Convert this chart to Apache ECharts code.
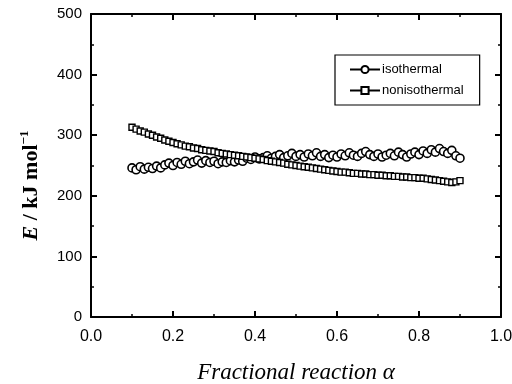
<!DOCTYPE html>
<html>
<head>
<meta charset="utf-8">
<script src="https://cdn.jsdelivr.net/npm/echarts@6/dist/echarts.min.js"></script>
<style>html,body{margin:0;padding:0;background:#fff}#c{width:512px;height:384px}</style>
</head>
<body>
<div id="c"></div>
<script>
var alpha = [0.10,0.11,0.12,0.13,0.14,0.15,0.16,0.17,0.18,0.19,
0.20,0.21,0.22,0.23,0.24,0.25,0.26,0.27,0.28,0.29,
0.30,0.31,0.32,0.33,0.34,0.35,0.36,0.37,0.38,0.39,
0.40,0.41,0.42,0.43,0.44,0.45,0.46,0.47,0.48,0.49,
0.50,0.51,0.52,0.53,0.54,0.55,0.56,0.57,0.58,0.59,
0.60,0.61,0.62,0.63,0.64,0.65,0.66,0.67,0.68,0.69,
0.70,0.71,0.72,0.73,0.74,0.75,0.76,0.77,0.78,0.79,
0.80,0.81,0.82,0.83,0.84,0.85,0.86,0.87,0.88,0.89,0.90];
var isothermal = [246,243,248,244,247,245,249,246,251,254,
250,255,252,257,253,256,259,254,258,255,
257,253,256,255,258,256,259,257,262,260,
264,261,263,266,262,265,268,263,266,270,
265,268,264,269,266,271,265,268,263,267,
264,269,266,271,267,265,270,273,268,265,
269,264,267,270,266,272,268,264,269,272,
268,274,270,276,272,278,273,270,275,266,262];
var nonisothermal = [313,310,307,305,302,300,297,295,292,290,
288,286,284,282,281,279,278,276,275,274,
273,271,270,269,268,267,266,265,264,263,
262,261,260,258,257,256,255,254,252,251,
250,249,248,247,246,245,244,243,242,241,
240,239,239,238,237,237,236,236,235,235,
234,234,233,233,232,232,231,231,230,230,
229,229,228,227,226,225,224,223,222,223,225];
var seriesNames = ['isothermal','nonisothermal'];
var xTicks = {min:0, max:1, interval:0.2};
var yTicks = {min:0, max:500, interval:100};

function pairs(xs, ys){ return xs.map(function(x,i){return [x, ys[i]];}); }

var axisCommon = {
  axisLine:{show:true, onZero:false, lineStyle:{color:'#000', width:2}},
  axisTick:{show:true, inside:true, length:6, lineStyle:{color:'#000', width:2}},
  minorTick:{show:true, splitNumber:2, length:3, lineStyle:{color:'#000', width:1.5}},
  splitLine:{show:false}
};
function ax(extra){ return Object.assign({}, JSON.parse(JSON.stringify(axisCommon)), extra); }

var chart = echarts.init(document.getElementById('c'));
chart.setOption({
  animation:false,
  backgroundColor:'#fff',
  grid:{left:91, right:11, top:14, bottom:67, containLabel:false, outerBoundsMode:'none'},
  xAxis:[
    ax({type:'value', position:'bottom', min:xTicks.min, max:xTicks.max, interval:xTicks.interval,
      axisLabel:{color:'#000', fontFamily:'Liberation Sans', fontSize:16, margin:12,
        formatter:function(v){return v.toFixed(1);}},
      name:'Fractional reaction α', nameLocation:'middle', nameGap:44,
      nameTextStyle:{color:'#000', fontFamily:'Liberation Serif', fontStyle:'italic', fontSize:23}}),
    ax({type:'value', position:'top', min:xTicks.min, max:xTicks.max, interval:xTicks.interval,
      axisLabel:{show:false}})
  ],
  yAxis:[
    ax({type:'value', position:'left', min:yTicks.min, max:yTicks.max, interval:yTicks.interval,
      axisLabel:{color:'#000', fontFamily:'Liberation Sans', fontSize:15, margin:9},
      name:'{i|E} / kJ mol{s|−1}', nameLocation:'middle', nameGap:47,
      nameTextStyle:{color:'#000', fontFamily:'Liberation Serif', fontWeight:'bold', fontSize:22,
        padding:[0,40,0,0], lineHeight:26,
        rich:{
          i:{fontFamily:'Liberation Serif', fontStyle:'italic', fontWeight:'bold', fontSize:22, color:'#000', lineHeight:26},
          s:{fontFamily:'Liberation Serif', fontWeight:'bold', fontSize:13, color:'#000', verticalAlign:'top', lineHeight:26}
        }}}),
    ax({type:'value', position:'right', min:yTicks.min, max:yTicks.max, interval:yTicks.interval,
      axisLabel:{show:false}})
  ],
  legend:{
    left:335, top:55, orient:'vertical', itemGap:8, itemWidth:30, itemHeight:9,
    padding:[8,16,8,14], borderColor:'#000', borderWidth:1.2,
    textStyle:{color:'#000', fontFamily:'Liberation Sans', fontSize:13, padding:[0,0,0,-3]},
    data:seriesNames
  },
  series:[
    {name:seriesNames[0], type:'line', data:pairs(alpha, isothermal), symbol:'circle', symbolSize:8,
      itemStyle:{color:'#fff', borderColor:'#000', borderWidth:1.6},
      lineStyle:{color:'#000', width:1.4}},
    {name:seriesNames[1], type:'line', data:pairs(alpha, nonisothermal), symbol:'rect', symbolSize:6,
      itemStyle:{color:'#fff', borderColor:'#000', borderWidth:1.4},
      lineStyle:{color:'#000', width:1.4}}
  ]
});
</script>
</body>
</html>
